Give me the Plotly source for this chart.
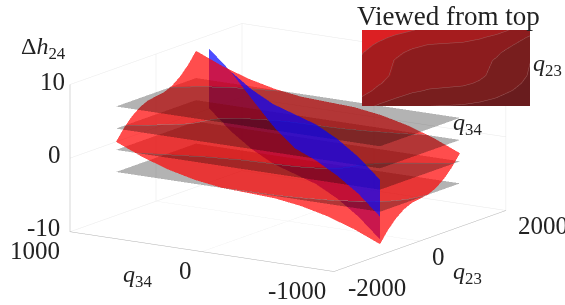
import plotly.graph_objects as go

q23_grid = [-930, -744, -558, -372, -186, 0, 186, 372, 558, 744, 930]
q34_grid = [-1000, -800, -600, -400, -200, 0, 200, 400, 600, 800, 1000]
# rows follow q34_grid, columns follow q23_grid
dh_red = [
    [-8.50, -6.97, -5.78, -4.93, -4.42, -4.25, -4.08, -3.57, -2.72, -1.53, 0.00],
    [-6.97, -5.44, -4.25, -3.40, -2.89, -2.72, -2.55, -2.04, -1.19, 0.00, 1.53],
    [-5.78, -4.25, -3.06, -2.21, -1.70, -1.53, -1.36, -0.85, 0.00, 1.19, 2.72],
    [-4.93, -3.40, -2.21, -1.36, -0.85, -0.68, -0.51, 0.00, 0.85, 2.04, 3.57],
    [-4.42, -2.89, -1.70, -0.85, -0.34, -0.17, 0.00, 0.51, 1.36, 2.55, 4.08],
    [-4.25, -2.72, -1.53, -0.68, -0.17, 0.00, 0.17, 0.68, 1.53, 2.72, 4.25],
    [-4.08, -2.55, -1.36, -0.51, 0.00, 0.17, 0.34, 0.85, 1.70, 2.89, 4.42],
    [-3.57, -2.04, -0.85, 0.00, 0.51, 0.68, 0.85, 1.36, 2.21, 3.40, 4.93],
    [-2.72, -1.19, 0.00, 0.85, 1.36, 1.53, 1.70, 2.21, 3.06, 4.25, 5.78],
    [-1.53, 0.00, 1.19, 2.04, 2.55, 2.72, 2.89, 3.40, 4.25, 5.44, 6.97],
    [0.00, 1.53, 2.72, 3.57, 4.08, 4.25, 4.42, 4.93, 5.78, 6.97, 8.50],
]
plane_levels = [-4.1, -1.1, 1.8, 4.8]
blue_q23 = [930, 698, 465, 232, 0, -232, -465, -698, -930]
blue_q34 = [900, 662, 425, 187, -50, -287, -525, -762, -1000]
blue_top = [9.05, 7.1, 5.75, 4.9, 4.65, 4.4, 3.55, 2.2, 0.25]
blue_mid = [9.05, 7.1, 4.45, 1.9, 0.05, -0.5, -1.45, -2.8, -4.75]
blue_bot = [0.95, -1.0, -2.35, -3.2, -3.45, -3.7, -4.55, -5.9, -7.85]
inset_colors = ["#691c1e", "#781e1e", "#8c1c1e", "#a51c1e", "#dc2023"]
q23_ticks = [-2000, 0, 2000]
q34_ticks = [1000, 0, -1000]
dh_ticks = [-10, 0, 10]

FONT = "Liberation Serif"
flat = dict(ambient=1, diffuse=0, specular=0, roughness=1, fresnel=0)
nq = len(q23_grid)


def solid(c):
    return [[0, c], [1, c]]


def plane(level, above):
    """Part of a plane lying above (or below) the red surface."""
    diff = [[level - v for v in row] for row in dh_red]
    op = [[0, 0], [0.5, 0], [0.5, 0.3], [1, 0.3]] if above else [[0, 0.3], [0.5, 0.3], [0.5, 0], [1, 0]]
    return go.Surface(x=q23_grid, y=q34_grid, z=[[level] * nq] * nq, surfacecolor=diff,
                      cmin=-20, cmax=20, colorscale=solid("#000000"), opacityscale=op,
                      showscale=False, lighting=flat, hoverinfo="skip")


def ribbon(upper, lower):
    return go.Surface(x=[blue_q23, blue_q23], y=[blue_q34, blue_q34], z=[upper, lower],
                      surfacecolor=[[0] * 9] * 2, colorscale=solid("#0000ff"), showscale=False,
                      opacity=0.7, lighting=flat, hoverinfo="skip")


fig = go.Figure()
fig.add_trace(ribbon(blue_mid, blue_bot))
for lv in plane_levels:
    fig.add_trace(plane(lv, False))
fig.add_trace(go.Surface(
    x=q23_grid, y=q34_grid, z=dh_red,
    surfacecolor=[[0] * nq] * nq, colorscale=solid("#ff0000"), showscale=False,
    opacity=0.7, lighting=flat, hoverinfo="skip",
    contours=dict(z=dict(show=True, start=-4.1, end=4.9, size=2.95, color="#b09090", width=1))))
for lv in plane_levels:
    fig.add_trace(plane(lv, True))
fig.add_trace(ribbon(blue_top, blue_mid))

# inset: same surface seen from straight above
c0, c1, c2, c3, c4 = inset_colors
fig.add_trace(go.Surface(
    x=q23_grid, y=q34_grid, z=dh_red, surfacecolor=dh_red, scene="scene2", showscale=False,
    cmin=-10, cmax=10, lighting=flat, hoverinfo="skip",
    colorscale=[[0, c0], [0.295, c0], [0.295, c1], [0.445, c1], [0.445, c2], [0.59, c2], [0.59, c3], [0.74, c3], [0.74, c4], [1, c4]],
    contours=dict(z=dict(show=True, start=-4.1, end=4.9, size=2.95, color="#9a5a5a", width=1))))


def ax(vals, rng):
    return dict(range=rng, tickvals=vals, title=dict(text=""), showticklabels=False,
                showbackground=False, showspikes=False, showgrid=True, gridcolor="#e8e8e8", gridwidth=1,
                zeroline=False, showline=True, linecolor="#b0b0b0", linewidth=1, ticks="")


def tick(x, y, z, xs, ys, text):
    return dict(x=x, y=y, z=z, text=text, showarrow=False, xshift=xs, yshift=ys, xanchor="center", yanchor="middle",
                font=dict(family=FONT, size=25, color="#222222"))


scene_labels = [
    tick(-2000, 1000, dh_ticks[2], -18, 3, str(dh_ticks[2])),
    tick(-2000, 1000, dh_ticks[1], -16, 3, str(dh_ticks[1])),
    tick(-2000, 1000, dh_ticks[0], -27, 4, str(dh_ticks[0])),
    tick(-2000, q34_ticks[0], -10, -35, -19, str(q34_ticks[0])),
    tick(-2000, q34_ticks[1], -10, -17, -19, str(q34_ticks[1])),
    tick(-2000, q34_ticks[2], -10, -37, -19, str(q34_ticks[2])),
    tick(q23_ticks[0], -1000, -10, 43, -16, str(q23_ticks[0])),
    tick(q23_ticks[1], -1000, -10, 18, -16, str(q23_ticks[1])),
    tick(q23_ticks[2], -1000, -10, 37, -15, str(q23_ticks[2])),
]

hidden = dict(visible=False, showgrid=False, showline=False, showticklabels=False, showbackground=False, title=dict(text=""))

fig.update_layout(
    width=565, height=305, margin=dict(l=0, r=0, t=0, b=0), showlegend=False,
    paper_bgcolor="white",
    font=dict(family=FONT, color="#222222"),
    scene=dict(
        domain=dict(x=[0.02, 1], y=[0.04, 0.994]),
        xaxis=ax(q23_ticks, [-2000, 2000]),
        yaxis=ax(q34_ticks, [-1000, 1000]),
        zaxis=ax(dh_ticks, [-10, 10]),
        aspectmode="manual", aspectratio=dict(x=2.165, y=2.165, z=1.04),
        camera=dict(projection=dict(type="orthographic"), up=dict(x=0, y=0, z=1),
                    center=dict(x=0, y=0, z=0), eye=dict(x=-1.55, y=-1.01, z=0.44)),
        annotations=scene_labels,
    ),
    scene2=dict(
        domain=dict(x=[362 / 565, 530 / 565], y=[1 - 106 / 305, 1 - 30 / 305]),
        xaxis=dict(hidden, range=[-930, 930]), yaxis=dict(hidden, range=[-1000, 1000]),
        zaxis=dict(hidden, range=[-10, 10]), bgcolor="white",
        aspectmode="manual", aspectratio=dict(x=2.01, y=4.45, z=0.05),
        camera=dict(projection=dict(type="orthographic"), up=dict(x=1, y=0, z=0),
                    center=dict(x=0, y=0, z=0), eye=dict(x=0, y=0, z=2)),
    ),
    annotations=[
        dict(text="Δ<i>h</i><sub>24</sub>", x=43, y=48, showarrow=False, font=dict(size=24)),
        dict(text="Viewed from top", x=448, y=16, showarrow=False, font=dict(size=27)),
        dict(text="<i>q</i><sub>23</sub>", x=547, y=65, showarrow=False, font=dict(size=24)),
        dict(text="<i>q</i><sub>34</sub>", x=467, y=124, showarrow=False, font=dict(size=24)),
        dict(text="<i>q</i><sub>34</sub>", x=137, y=276, showarrow=False, font=dict(size=24)),
        dict(text="<i>q</i><sub>23</sub>", x=467, y=273, showarrow=False, font=dict(size=24)),
    ],
)
for a in fig.layout.annotations:
    a.x = a.x / 565
    a.y = 1 - a.y / 305
    a.xref = "paper"
    a.yref = "paper"
    a.xanchor = "center"
    a.yanchor = "middle"

fig.write_html("out.html", config=dict(displayModeBar=False),
               post_script="document.body.style.margin='0';document.documentElement.style.overflow='hidden';")
